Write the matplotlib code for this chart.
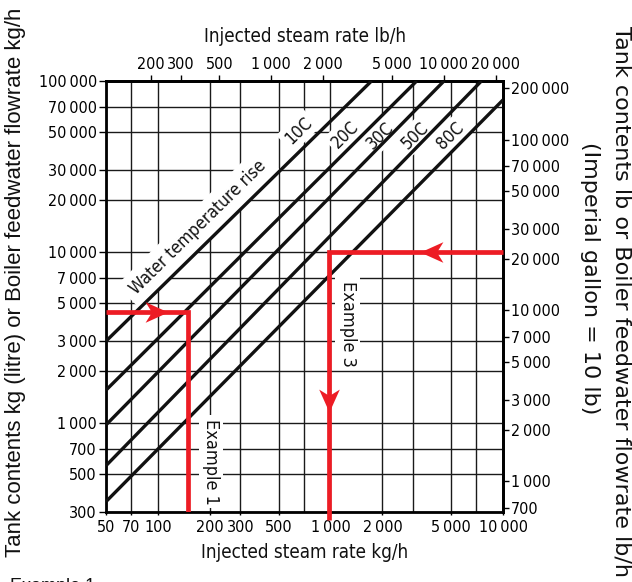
import matplotlib
matplotlib.use("Agg")
import matplotlib.pyplot as plt
from matplotlib import font_manager as fm
from matplotlib.path import Path
from matplotlib.markers import MarkerStyle
from matplotlib.transforms import Affine2D
from matplotlib.ticker import FixedLocator, NullLocator, NullFormatter

# look for a narrow face like the condensed type in the original drawing
narrow = None
for f in fm.fontManager.ttflist:
    if f.weight not in (400, 'normal', 'regular', 'book') or f.style != 'normal':
        continue
    if 'Narrow' in f.name or 'Condensed' in f.name or f.stretch in ('condensed', 'semi-condensed'):
        narrow = f
        break

if narrow is not None:
    plt.rcParams['font.family'] = [narrow.name, 'Liberation Sans', 'DejaVu Sans']
    plt.rcParams['font.stretch'] = narrow.stretch
    TICK_FS, NOTE_FS, EX_FS, TITLE_FS = 11.5, 12.5, 13, 13.5
else:
    plt.rcParams['font.family'] = ['Liberation Sans', 'DejaVu Sans']
    TICK_FS, NOTE_FS, EX_FS, TITLE_FS = 11, 12, 12, 13

KG_TO_LB = 2.20462

# axis ticks / grid
x_ticks = [50, 70, 100, 200, 300, 500, 1000, 2000, 5000, 10000]
x_grid = [70, 100, 200, 300, 500, 700, 1000, 2000, 3000, 5000, 7000]
y_ticks = [300, 500, 700, 1000, 2000, 3000, 5000, 7000, 10000, 20000, 30000, 50000, 70000, 100000]
y_grid = [500, 700, 1000, 2000, 3000, 5000, 7000, 10000, 20000, 30000, 50000, 70000]
top_ticks = [200, 300, 500, 1000, 2000, 5000, 10000, 20000]
right_ticks = [700, 1000, 2000, 3000, 5000, 7000, 10000, 20000, 30000, 50000, 70000, 100000, 200000]

# water temperature rise lines (kg/h steam vs kg water)
rise_labels = ['10C', '20C', '30C', '50C', '80C']
rise_start_x = [50, 50, 50, 50, 50]
rise_start_y = [3000, 1550, 970, 560, 345]
rise_end_x = [1730, 3160, 4550, 7500, 10000]
rise_end_y = [100000, 100000, 100000, 100000, 77500]
rise_label_x = [651, 1215, 1938, 3090, 4933]
rise_label_y = [51000, 48800, 47700, 47700, 47700]

# worked examples
ex1_x = [50, 150, 150]
ex1_y = [4450, 4450, 300]
ex1_arrow = (115, 4450)
ex3_x = [10000, 980, 980]
ex3_y = [10000, 10000, 270]
ex3_arrow_h = (3300, 10000)
ex3_arrow_v = (980, 1160)

RED = '#ed1c24'
INK = '#111111'


def fmt(v):
    return f"{v:,}".replace(",", "\u2009")


def arrow_marker(angle):
    head = Path([(0, 0), (-1, 0.45), (-0.72, 0), (-1, -0.45), (0, 0)],
                [Path.MOVETO, Path.LINETO, Path.LINETO, Path.LINETO, Path.CLOSEPOLY])
    return MarkerStyle(head, transform=Affine2D().rotate_deg(angle))


fig = plt.figure(figsize=(6.32, 5.82), dpi=100)
ax = fig.add_axes([106 / 632, 1 - 512 / 582, 397 / 632, 431 / 582])
ax.set_xscale('log')
ax.set_yscale('log')
ax.set_xlim(50, 10000)
ax.set_ylim(300, 100000)

ax.set_xticks(x_ticks, labels=[fmt(v) for v in x_ticks])
ax.set_yticks(y_ticks, labels=[fmt(v) for v in y_ticks])
ax.xaxis.set_minor_locator(FixedLocator(x_grid))
ax.yaxis.set_minor_locator(FixedLocator(y_grid))
ax.xaxis.set_minor_formatter(NullFormatter())
ax.yaxis.set_minor_formatter(NullFormatter())
ax.grid(which='both', color='#1a1a1a', lw=1.0)
ax.set_axisbelow(True)
ax.tick_params(axis='y', which='major', length=5, width=1, pad=1.5, labelsize=TICK_FS)
ax.tick_params(axis='x', which='major', length=2.5, width=1, pad=3, labelsize=TICK_FS)
ax.tick_params(which='minor', length=0)
for s in ax.spines.values():
    s.set_linewidth(2)

sec_x = ax.secondary_xaxis('top', functions=(lambda v: v * KG_TO_LB, lambda v: v / KG_TO_LB))
sec_x.set_xticks(top_ticks, labels=[fmt(v) for v in top_ticks])
sec_x.xaxis.set_minor_locator(NullLocator())
sec_x.tick_params(length=4, width=1, pad=2.5, labelsize=TICK_FS)
sec_x.spines['top'].set_linewidth(2)

sec_y = ax.secondary_yaxis('right', functions=(lambda v: v * KG_TO_LB, lambda v: v / KG_TO_LB))
sec_y.set_yticks(right_ticks, labels=[fmt(v) for v in right_ticks])
sec_y.yaxis.set_minor_locator(NullLocator())
sec_y.tick_params(length=4, width=1, pad=1.5, labelsize=TICK_FS)
sec_y.spines['right'].set_linewidth(2)

# temperature rise lines
for x0, y0, x1, y1 in zip(rise_start_x, rise_start_y, rise_end_x, rise_end_y):
    ax.plot([x0, x1], [y0, y1], color=INK, lw=2.4, zorder=3, solid_capstyle='butt')

box = dict(facecolor='white', edgecolor='none', pad=2.5)
for lab, lx, ly in zip(rise_labels, rise_label_x, rise_label_y):
    ax.text(lx, ly, lab, rotation=44.5, rotation_mode='anchor', ha='center', va='center',
            fontsize=NOTE_FS, color=INK, bbox=box, zorder=2)
ax.text(171, 13900, 'Water temperature rise', rotation=44.5, rotation_mode='anchor',
        ha='center', va='center', fontsize=NOTE_FS, color=INK,
        bbox=dict(facecolor='white', edgecolor='none', pad=5), zorder=2)
ax.text(203, 590, 'Example 1', rotation=-90, ha='center', va='center', fontsize=EX_FS,
        color=INK, bbox=box, zorder=2)
ax.text(1256, 3800, 'Example 3', rotation=-90, ha='center', va='center', fontsize=EX_FS,
        color=INK, bbox=box, zorder=2)

# example paths
ax.plot(ex1_x, ex1_y, color=RED, lw=3.4, zorder=4, solid_joinstyle='miter', solid_capstyle='butt')
ax.plot(ex3_x, ex3_y, color=RED, lw=3.4, zorder=4, solid_joinstyle='miter', solid_capstyle='butt',
        clip_on=False)
ax.plot(*ex1_arrow, marker=arrow_marker(0), ms=33, color=RED, mew=0, zorder=5)
ax.plot(*ex3_arrow_h, marker=arrow_marker(180), ms=33, color=RED, mew=0, zorder=5)
ax.plot(*ex3_arrow_v, marker=arrow_marker(-90), ms=33, color=RED, mew=0, zorder=5)

# axis titles
fig.text(305 / 632, 1 - 553 / 582, 'Injected steam rate kg/h', ha='center', va='center',
         fontsize=TITLE_FS, color=INK)
fig.text(305 / 632, 1 - 37 / 582, 'Injected steam rate lb/h', ha='center', va='center',
         fontsize=TITLE_FS, color=INK)
fig.text(16 / 632, 1 - 282 / 582, 'Tank contents kg (litre) or Boiler feedwater flowrate kg/h',
         rotation=90, ha='center', va='center', fontsize=16, family='Liberation Sans',
         stretch='normal', color=INK)
fig.text(622 / 632, 1 - 301 / 582, 'Tank contents lb or Boiler feedwater flowrate lb/h',
         rotation=-90, ha='center', va='center', fontsize=16, family='DejaVu Sans',
         stretch='normal', color=INK)
fig.text(590 / 632, 1 - 278 / 582, '(Imperial gallon = 10 lb)', rotation=-90,
         ha='center', va='center', fontsize=16, family='DejaVu Sans', stretch='normal',
         color=INK)
# heading of the next section, only its top edge shows under the chart
fig.text(10 / 632, 1 - 578 / 582, 'Example 1', ha='left', va='top', fontsize=13,
         family='Liberation Sans', stretch='normal', color=INK)

fig.savefig('out.png', dpi=100)
